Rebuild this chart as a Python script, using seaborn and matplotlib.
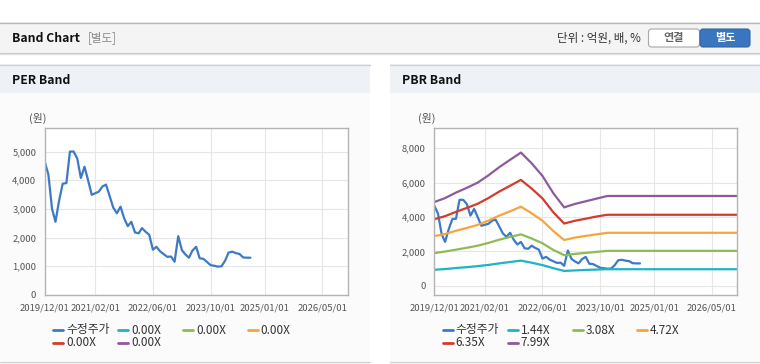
import pandas as pd
import matplotlib.pyplot as plt
import matplotlib.dates as mdates
import matplotlib.ticker as mticker
from matplotlib.patches import Rectangle, FancyBboxPatch
from matplotlib.lines import Line2D
import seaborn as sns

# monthly adjusted price (수정주가), 2019/12 ~ 2024/09
price = [4650, 4200, 3000, 2550, 3300, 3880, 3900, 5000, 5000, 4750,
         4080, 4470, 4000, 3490, 3550, 3600, 3780, 3850, 3450, 3050,
         2850, 3080, 2680, 2400, 2550, 2180, 2150, 2330, 2200, 2100,
         1580, 1680, 1520, 1420, 1330, 1340, 1160, 2050, 1560, 1420,
         1300, 1550, 1680, 1280, 1260, 1150, 1040, 1020, 990, 1000,
         1200, 1480, 1510, 1460, 1430, 1310, 1300, 1300]
price_dates = pd.date_range('2019-12-01', periods=len(price), freq='MS')

# PBR band lines (quarterly, flat after 2023/12)
band_dates = pd.to_datetime(['2019-12-01', '2020-03-01', '2020-06-01', '2020-09-01',
                             '2020-12-01', '2021-03-01', '2021-06-01', '2021-09-01',
                             '2021-12-01', '2022-03-01', '2022-06-01', '2022-09-01',
                             '2022-12-01', '2023-03-01', '2023-06-01', '2023-09-01',
                             '2023-12-01', '2026-12-01'])
pbr_144 = [930, 970, 1030, 1080, 1140, 1210, 1300, 1380, 1460, 1340, 1200, 1020, 860, 890, 920, 940, 960, 960]
pbr_308 = [1900, 1990, 2100, 2210, 2330, 2490, 2680, 2840, 2990, 2750, 2470, 2080, 1780, 1850, 1910, 1970, 2030, 2030]
pbr_472 = [2890, 3010, 3200, 3360, 3540, 3790, 4080, 4330, 4600, 4220, 3780, 3180, 2660, 2800, 2900, 2990, 3080, 3080]
pbr_635 = [3870, 4050, 4300, 4530, 4770, 5100, 5480, 5820, 6160, 5660, 5080, 4270, 3620, 3780, 3900, 4030, 4130, 4130]
pbr_799 = [4870, 5100, 5420, 5700, 6000, 6420, 6900, 7330, 7750, 7130, 6390, 5380, 4560, 4760, 4915, 5070, 5224, 5224]

per_labels = ['수정주가', '0.00X', '0.00X', '0.00X', '0.00X', '0.00X']
pbr_labels = ['수정주가', '1.44X', '3.08X', '4.72X', '6.35X', '7.99X']
colors = ['#3d7ac6', '#1fb3c4', '#8dbb55', '#f4a63c', '#d43a2e', '#8e5a9c']

tick_dates = pd.to_datetime(['2019-12-01', '2021-02-01', '2022-06-01',
                             '2023-10-01', '2025-01-01', '2026-05-01'])

sns.set_theme(style='white')
plt.rcParams['font.family'] = ['Noto Sans CJK KR', 'DejaVu Sans']

fig = plt.figure(figsize=(7.6, 3.64), dpi=100)

# background / page elements in pixel coords
bg = fig.add_axes([0, 0, 1, 1])
bg.set_xlim(0, 760)
bg.set_ylim(364, 0)
bg.axis('off')

bg.add_patch(Rectangle((0, 22), 760, 30, facecolor='#f4f4f4', edgecolor='none'))
bg.plot([0, 760], [22.5, 22.5], color='#b8b8b8', lw=1)
bg.plot([0, 760], [52.5, 52.5], color='#c4c4c4', lw=1)
bg.plot([0, 760], [53.5, 53.5], color='#e2e2e2', lw=1)
bg.text(12, 38, 'Band Chart', fontsize=8.8, fontweight='bold', color='#111', va='center')
bg.text(88, 38, '[별도]', fontsize=8.3, color='#8a8a8a', va='center')
bg.text(641, 38, '단위 : 억원, 배, %', fontsize=8.3, color='#333', va='center', ha='right')
bg.add_patch(FancyBboxPatch((648.5, 29), 51, 18, boxstyle='round,pad=0,rounding_size=3',
                            facecolor='white', edgecolor='#a8a8a8', lw=0.8))
bg.add_patch(FancyBboxPatch((700, 29), 50, 18, boxstyle='round,pad=0,rounding_size=3',
                            facecolor='#3a76bd', edgecolor='#2f66a8', lw=0.8))
bg.text(674, 38, '연결', fontsize=8, fontweight='bold', color='#666', va='center', ha='center')
bg.text(725, 38, '별도', fontsize=8, fontweight='bold', color='white', va='center', ha='center')

for x0, title in [(0, 'PER Band'), (390, 'PBR Band')]:
    bg.add_patch(Rectangle((x0, 93), 370, 268, facecolor='#fbfbfb', edgecolor='none'))
    bg.add_patch(Rectangle((x0, 64), 370, 29, facecolor='#eef2f7', edgecolor='none'))
    bg.plot([x0, x0 + 370], [64.5, 64.5], color='#d0d0d0', lw=1)
    bg.plot([x0, x0 + 370], [361.5, 361.5], color='#d0d0d0', lw=1)
    bg.text(x0 + 12, 80, title, fontsize=8.8, fontweight='bold', color='#111', va='center')


def draw_legend(x0, labels):
    cols = [x0, x0 + 65, x0 + 130, x0 + 194.5]
    rows = [330, 343]
    for i, (lab, c) in enumerate(zip(labels, colors)):
        x = cols[i % 4]
        y = rows[i // 4]
        bg.add_line(Line2D([x, x + 10], [y, y], color=c, lw=2))
        bg.text(x + 13, y, lab, fontsize=8.5, color='#333', va='center')


def style_axes(ax, ylim, yticks):
    ax.set_xlim(pd.Timestamp('2019-12-01'), pd.Timestamp('2026-12-01'))
    ax.set_ylim(*ylim)
    ax.set_yticks(yticks)
    ax.set_xticks(tick_dates)
    ax.xaxis.set_major_formatter(mdates.DateFormatter('%Y/%m/%d'))
    ax.yaxis.set_major_formatter(mticker.FuncFormatter(lambda v, p: f'{int(v):,}'))
    ax.grid(True, color='#e6e6e6', lw=0.8)
    ax.set_facecolor('white')
    for s in ax.spines.values():
        s.set_color('#b4b4b4')
        s.set_linewidth(1)
    ax.tick_params(axis='both', labelsize=6.8, colors='#b4b4b4', labelcolor='#555',
                   length=4, width=1, direction='out', pad=2)
    ax.set_xlabel('')
    ax.set_ylabel('')


# PER Band
ax1 = fig.add_axes([44.7 / 760, 1 - 295 / 364, 303 / 760, 167 / 364])
df_price = pd.DataFrame({'date': price_dates, 'value': price})
sns.lineplot(data=df_price, x='date', y='value', color=colors[0], lw=1.6, ax=ax1)
style_axes(ax1, (0, 5820), [0, 1000, 2000, 3000, 4000, 5000])
bg.text(29, 118, '(원)', fontsize=7.8, color='#555', va='center')
draw_legend(53, per_labels)

# PBR Band
ax2 = fig.add_axes([434.3 / 760, 1 - 295 / 364, 303 / 760, 167 / 364])
sns.lineplot(data=df_price, x='date', y='value', color=colors[0], lw=1.6, ax=ax2)
bands = [pbr_144, pbr_308, pbr_472, pbr_635, pbr_799]
df_band = pd.concat([pd.DataFrame({'date': band_dates, 'value': v, 'band': lab})
                     for v, lab in zip(bands, pbr_labels[1:])])
sns.lineplot(data=df_band, x='date', y='value', hue='band', palette=colors[1:],
             lw=1.6, legend=False, ax=ax2)
style_axes(ax2, (-540, 9180), [0, 2000, 4000, 6000, 8000])
bg.text(418, 118, '(원)', fontsize=7.8, color='#555', va='center')
draw_legend(442.7, pbr_labels)

plt.savefig('out.png', dpi=100)
